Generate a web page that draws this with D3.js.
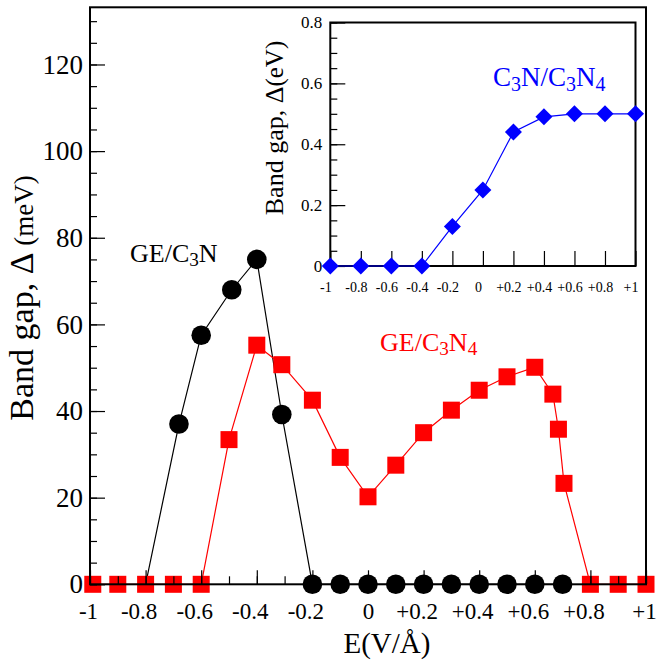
<!DOCTYPE html>
<html>
<head>
<meta charset="utf-8">
<script src="https://cdn.jsdelivr.net/npm/d3@7"></script>
<style>
  html, body { margin: 0; padding: 0; background: #fff; }
  svg { display: block; }
  svg text { font-family: "Liberation Serif", "Times New Roman", serif; }
</style>
</head>
<body>
<svg id="chart" width="659" height="660"></svg>
<script>
// ---- Band gap vs. electric field, GE/C3N and GE/C3N4 (meV) ----
const c3nField = [-0.8, -0.68, -0.6, -0.49, -0.4, -0.31, -0.2, -0.1, 0, 0.1, 0.2, 0.3, 0.4, 0.5, 0.6, 0.7];
const c3nGap   = [0, 37, 57.5, 68, 75, 39.2, 0, 0, 0, 0, 0, 0, 0, 0, 0, 0];

const c3n4Field = [-0.99, -0.9, -0.8, -0.7, -0.6, -0.5, -0.4, -0.31, -0.2, -0.1, 0, 0.1, 0.2, 0.3, 0.4, 0.5, 0.6, 0.665, 0.685, 0.705, 0.8, 0.9, 1];
const c3n4Gap   = [0, 0, 0, 0, 0, 33.4, 55.2, 50.7, 42.5, 29.3, 20.2, 27.5, 35, 40.2, 44.8, 47.9, 50.1, 43.9, 35.8, 23.3, 0, 0, 0];

// ---- inset: C3N/C3N4 band gap (eV) ----
const insetField = [-1, -0.8, -0.6, -0.4, -0.2, 0, 0.2, 0.4, 0.6, 0.8, 1];
const insetGap   = [0, 0, 0, 0, 0.13, 0.25, 0.44, 0.49, 0.5, 0.5, 0.5];

// tick values and labels
const mainXTicks  = [-1, -0.8, -0.6, -0.4, -0.2, 0, 0.2, 0.4, 0.6, 0.8, 1];
const mainXLabels = ["-1", "-0.8", "-0.6", "-0.4", "-0.2", "0", "+0.2", "+0.4", "+0.6", "+0.8", "+1"];
const mainXMinor  = d3.range(-10, 11).map(i => i / 10);
const mainYTicks  = [0, 20, 40, 60, 80, 100, 120];
const mainYMinor  = d3.range(0, 134, 5);
const insetXTicks = [-1, -0.8, -0.6, -0.4, -0.2, 0, 0.2, 0.4, 0.6, 0.8, 1];
const insetXLabels = ["-1", "-0.8", "-0.6", "-0.4", "-0.2", "0", "+0.2", "+0.4", "+0.6", "+0.8", "+1"];
const insetYTicks = [0, 0.2, 0.4, 0.6, 0.8];
const insetYLabels = ["0", "0.2", "0.4", "0.6", "0.8"];
const insetYMinor = d3.range(0, 17).map(i => i * 0.05);

const SERIF = "Liberation Serif, Times New Roman, serif";
const svg = d3.select("#chart");

// ---------- main panel ----------
const M = { left: 90, right: 646, top: 7.3, bottom: 584.3 };
const x = d3.scaleLinear().domain([-1, 1]).range([M.left, M.right]);
const y = d3.scaleLinear().domain([0, 133.2]).range([M.bottom, M.top]);

const main = svg.append("g");

function series(g, xs, ys, sx, sy, color) {
  const pts = xs.map((v, i) => [v, ys[i]]);
  g.append("path")
    .datum(pts)
    .attr("fill", "none")
    .attr("stroke", color)
    .attr("stroke-width", 1.2)
    .attr("d", d3.line().x(d => sx(d[0])).y(d => sy(d[1])));
  return pts;
}

// GE/C3N (black circles); the curve leaves the axis at its first point, which carries no marker
const c3nPts = series(main, c3nField, c3nGap, x, y, "#000");
main.append("g").selectAll("circle").data(c3nPts.slice(1)).join("circle")
  .attr("cx", d => x(d[0])).attr("cy", d => y(d[1])).attr("r", 9.8)
  .attr("fill", "#000");

// GE/C3N4 (red squares)
const c3n4Pts = series(main, c3n4Field, c3n4Gap, x, y, "#ff0000");
const sq = 17;
main.append("g").selectAll("rect").data(c3n4Pts).join("rect")
  .attr("x", d => x(d[0]) - sq / 2).attr("y", d => y(d[1]) - sq / 2)
  .attr("width", sq).attr("height", sq)
  .attr("fill", "#ff0000");

// axes drawn over the markers
const axMain = svg.append("g");
const xMinorAxis = d3.axisBottom(x).tickValues(mainXMinor).tickSizeInner(-8).tickSizeOuter(0).tickFormat("");
const xMajorAxis = d3.axisBottom(x).tickValues(mainXTicks).tickSizeInner(-14).tickSizeOuter(0)
  .tickPadding(18).tickFormat((d, i) => mainXLabels[i]);
const yMinorAxis = d3.axisLeft(y).tickValues(mainYMinor).tickSizeInner(-7).tickSizeOuter(0).tickFormat("");
const yMajorAxis = d3.axisLeft(y).tickValues(mainYTicks).tickSizeInner(-15).tickSizeOuter(0)
  .tickPadding(7).tickFormat(d3.format("d"));

function styleAxis(g, fontSize) {
  g.attr("font-family", SERIF).attr("font-size", fontSize);
  g.select(".domain").remove();
  g.selectAll("line").attr("stroke", "#000").attr("stroke-width", 1.2);
  g.selectAll("text").attr("fill", "#000").attr("font-size", fontSize)
    .style("font-family", SERIF);
}

axMain.append("g").attr("transform", `translate(0,${M.bottom})`).call(xMinorAxis).call(g => styleAxis(g, 23));
axMain.append("g").attr("transform", `translate(0,${M.bottom})`).call(xMajorAxis).call(g => styleAxis(g, 23))
  .selectAll("text")
  .attr("dx", (d, i) => {
    const s = mainXLabels[i];
    if (s === "0") return 0;
    return s.includes(".") ? -7 : -2;
  });
axMain.append("g").attr("transform", `translate(${M.left},0)`).call(yMinorAxis).call(g => styleAxis(g, 27));
axMain.append("g").attr("transform", `translate(${M.left},0)`).call(yMajorAxis).call(g => styleAxis(g, 27));

// frame
axMain.append("rect")
  .attr("x", M.left).attr("y", M.top)
  .attr("width", M.right - M.left).attr("height", M.bottom - M.top)
  .attr("fill", "none").attr("stroke", "#000").attr("stroke-width", 2);

// axis titles
svg.append("text")
  .attr("transform", "translate(33,298) rotate(-90)")
  .attr("text-anchor", "middle").attr("fill", "#000")
  .call(t => {
    t.append("tspan").attr("font-size", 34).text("Band gap, \u0394 ");
    t.append("tspan").attr("font-size", 27).text("(meV)");
  });

svg.append("text")
  .attr("x", 387).attr("y", 653)
  .attr("text-anchor", "middle").attr("font-size", 29).attr("fill", "#000")
  .text("E(V/\u00C5)");

// series labels with subscripts
function chemLabel(g, px, py, size, color, parts) {
  const t = g.append("text").attr("x", px).attr("y", py).attr("font-size", size).attr("fill", color);
  let shifted = false;
  parts.forEach(p => {
    const sp = t.append("tspan").text(p.t);
    if (p.sub) {
      sp.attr("font-size", size * 0.74).attr("dy", shifted ? 0 : size * 0.17);
      shifted = true;
    } else {
      sp.attr("dy", shifted ? -size * 0.17 : 0);
      shifted = false;
    }
  });
}

chemLabel(svg, 130, 262, 26, "#000", [{ t: "GE/C" }, { t: "3", sub: true }, { t: "N" }]);
chemLabel(svg, 380, 351, 26, "#ff0000", [{ t: "GE/C" }, { t: "3", sub: true }, { t: "N" }, { t: "4", sub: true }]);

// ---------- inset ----------
const I = { left: 330.3, right: 635.5, top: 22.5, bottom: 266 };
const xi = d3.scaleLinear().domain([-1, 1]).range([I.left, I.right]);
const yi = d3.scaleLinear().domain([0, 0.8]).range([I.bottom, I.top]);

const inset = svg.append("g");
inset.append("rect")
  .attr("x", I.left).attr("y", I.top)
  .attr("width", I.right - I.left).attr("height", I.bottom - I.top)
  .attr("fill", "#fff");

const xiAxis = d3.axisBottom(xi).tickValues(insetXTicks).tickSizeInner(-15).tickSizeOuter(0)
  .tickPadding(16).tickFormat((d, i) => insetXLabels[i]);
const yiMinor = d3.axisLeft(yi).tickValues(insetYMinor).tickSizeInner(-7).tickSizeOuter(0).tickFormat("");
const yiAxis = d3.axisLeft(yi).tickValues(insetYTicks).tickSizeInner(-15).tickSizeOuter(0)
  .tickPadding(8).tickFormat((d, i) => insetYLabels[i]);

inset.append("g").attr("transform", `translate(0,${I.bottom})`).call(xiAxis).call(g => styleAxis(g, 14))
  .selectAll("text").attr("dx", -5);
inset.append("g").attr("transform", `translate(${I.left},0)`).call(yiMinor).call(g => styleAxis(g, 17));
inset.append("g").attr("transform", `translate(${I.left},0)`).call(yiAxis).call(g => styleAxis(g, 17));

inset.append("rect")
  .attr("x", I.left).attr("y", I.top)
  .attr("width", I.right - I.left).attr("height", I.bottom - I.top)
  .attr("fill", "none").attr("stroke", "#000").attr("stroke-width", 2);

const insetPts = series(inset, insetField, insetGap, xi, yi, "#0000ff");
const dm = 8.5;
inset.append("g").selectAll("path.dia").data(insetPts).join("path")
  .attr("class", "dia")
  .attr("d", d => {
    const cx = xi(d[0]), cy = yi(d[1]);
    return `M${cx},${cy - dm}L${cx + dm},${cy}L${cx},${cy + dm}L${cx - dm},${cy}Z`;
  })
  .attr("fill", "#0000ff");

svg.append("text")
  .attr("transform", "translate(283,128) rotate(-90)")
  .attr("text-anchor", "middle").attr("fill", "#000")
  .call(t => {
    t.append("tspan").attr("font-size", 26).text("Band gap, \u0394");
    t.append("tspan").attr("font-size", 25).text("(eV)");
  });

chemLabel(svg, 493, 86, 27, "#0000ff", [{ t: "C" }, { t: "3", sub: true }, { t: "N/C" }, { t: "3", sub: true }, { t: "N" }, { t: "4", sub: true }]);
</script>
</body>
</html>
